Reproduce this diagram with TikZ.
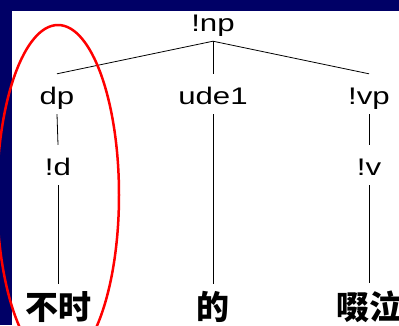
\documentclass[tikz,border=0pt]{standalone}
\usepackage{fontspec}
\usepackage{xcolor}
\usepackage{tikz}
\usetikzlibrary{shapes.geometric}
\newfontfamily\labelfont[FakeStretch=1.3]{Liberation Sans}
\newfontfamily\cjkfont{Noto Sans CJK SC}
\definecolor{slidenavy}{HTML}{000066}
\definecolor{markred}{HTML}{FF0000}
\tikzset{
  treelabel/.style={
    font=\labelfont\fontsize{24}{28}\selectfont,
    text height=28pt, text depth=8pt, inner xsep=2pt, inner ysep=2pt,
    anchor=base
  },
  wordlabel/.style={
    font=\cjkfont\bfseries\fontsize{33}{38}\selectfont,
    inner sep=7pt, anchor=base
  },
  branch/.style={draw=black, line width=0.8pt},
  circled/.style={ellipse, draw=markred, line width=2.5pt, inner sep=0pt,
    minimum width=122pt, minimum height=340pt}
}
\begin{document}
\begin{tikzpicture}[x=1pt, y=-1pt]
    \useasboundingbox (0,0) rectangle (399,325);
    % slide frame
    \fill[slidenavy] (0,0) rectangle (399,325);
    \fill[white] (12,11) rectangle (399,325);
    \node[treelabel] (np) at (213,31) {!np};
    \node[treelabel] (dp) at (57,104) {dp};
    \node[treelabel] (ude) at (213,104) {ude1};
    \node[treelabel] (vp) at (369,104) {!vp};
    \node[treelabel] (d) at (58,175) {!d};
    \node[treelabel] (v) at (369,175) {!v};
    \node[wordlabel] (bushi) at (58,319) {不时};
    \node[wordlabel] (de) at (213,319) {的};
    \node[wordlabel] (chuoqi) at (369,319) {啜泣};
    \draw[branch] (np.south) -- (dp.north);
    \draw[branch] (np.south) -- (ude.north);
    \draw[branch] (np.south) -- (vp.north);
    \draw[branch] (dp.south) -- (d.north);
    \draw[branch] (vp.south) -- (v.north);
    \draw[branch] (d.south) -- (bushi.north);
    \draw[branch] (ude.south) -- (de.north);
    \draw[branch] (v.south) -- (chuoqi.north);
    \node[circled] (focus) at (58,195) {};
\end{tikzpicture}
\end{document}
